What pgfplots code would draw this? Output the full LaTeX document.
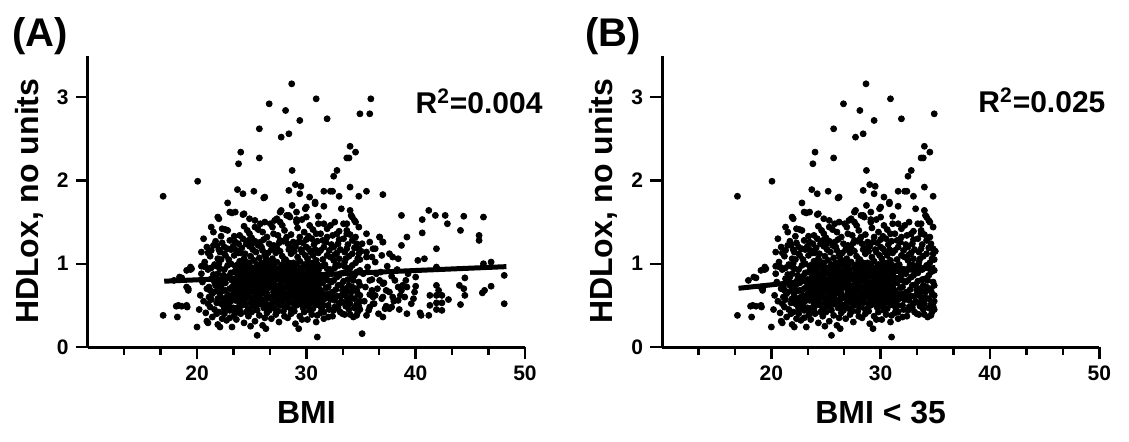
\documentclass[border=0pt]{standalone}
\usepackage{pgfplots}
\pgfplotsset{compat=1.18}
\usepackage{pgfplotstable}
\usepackage{fontspec}
\setmainfont{Liberation Sans}

% HDLox vs BMI (panel B = same points with BMI < 35)
\pgfplotstableread[row sep=\\]{
bmi hdl\\
28.66 3.16\\ 30.9 2.98\\ 35.9 2.98\\ 26.6 2.92\\ 28.1 2.84\\ 34.9 2.80\\ 35.8 2.80\\ 31.9 2.74\\
29.4 2.72\\ 25.7 2.62\\ 27.7 2.52\\ 28.4 2.56\\ 34.0 2.41\\ 34.5 2.34\\ 24.0 2.34\\ 23.8 2.20\\
25.7 2.27\\ 33.7 2.27\\ 33.9 2.27\\ 28.7 2.12\\ 32.8 2.12\\ 32.5 2.05\\ 20.06 1.99\\ 16.9 1.81\\
23.7 1.89\\ 24.2 1.84\\ 25.2 1.87\\ 26.1 1.79\\ 28.4 1.88\\ 29.0 1.95\\ 29.5 1.93\\ 29.4 1.84\\
30.3 1.80\\ 31.6 1.87\\ 32.2 1.87\\ 32.4 1.87\\ 33.0 1.81\\ 34.0 1.92\\ 34.8 1.81\\ 35.5 1.87\\ 37.0 1.83\\
16.9 0.38\\ 18.2 0.36\\ 18.1 0.49\\ 18.6 0.49\\ 19.1 0.48\\ 19.2 0.70\\ 19.4 0.93\\ 19.4 0.96\\
18.4 0.84\\ 20.0 0.24\\ 21.0 0.29\\ 22.1 0.24\\ 21.9 0.27\\ 23.2 0.24\\ 25.5 0.14\\ 26.3 0.22\\
31.0 0.12\\ 30.8 1.74\\ 22.8 1.73\\ 21.9 1.56\\ 23.0 1.62\\ 23.5 1.62\\ 24.3 1.60\\ 21.3 1.44\\
22.3 1.42\\ 22.8 1.40\\ 20.6 1.30\\ 20.4 1.14\\ 21.3 1.16\\ 21.8 1.22\\ 20.4 0.97\\ 20.8 0.96\\
28.7 1.70\\ 27.6 1.62\\ 28.2 1.58\\ 24.8 1.54\\ 25.3 1.44\\
26.2 1.80\\ 23.2 1.61\\ 24.2 1.59\\ 25.3 1.52\\ 25.6 1.41\\ 24.8 1.36\\ 26.7 1.48\\ 27.3 1.54\\
27.7 1.64\\ 28.4 1.58\\ 29.1 1.53\\ 29.6 1.53\\ 30.0 1.68\\ 30.8 1.72\\ 31.6 1.69\\ 31.1 1.57\\
30.3 1.46\\ 31.6 1.48\\ 32.2 1.46\\ 33.2 1.66\\ 34.0 1.64\\ 34.1 1.58\\ 22.6 1.41\\
20.9 1.20\\ 21.5 1.22\\ 22.1 1.14\\ 23.0 1.28\\ 23.6 1.16\\ 23.9 1.34\\ 24.5 1.24\\ 25.8 1.26\\
26.4 1.32\\ 27.0 1.36\\ 27.6 1.28\\ 28.2 1.32\\ 28.8 1.26\\ 29.4 1.32\\ 30.5 1.30\\ 30.9 1.36\\
31.9 1.32\\ 32.8 1.36\\ 33.4 1.30\\ 34.5 1.32\\ 35.1 1.24\\ 35.5 1.36\\ 19.05 0.92\\ 19.5 0.94\\
19.05 0.72\\ 19.2 0.68\\ 18.3 0.50\\ 19.05 0.50\\ 18.6 0.83\\ 17.9 0.80\\
34.2 1.56\\ 34.4 1.52\\ 33.4 1.48\\ 33.7 1.40\\ 33.7 1.36\\
22.0 1.54\\ 21.5 1.38\\ 29.1 1.62\\ 29.9 1.66\\ 30.0 1.56\\ 34.5 1.50\\ 33.7 1.48\\ 25.8 1.48\\
26.2 1.50\\ 27.1 1.52\\ 27.6 1.50\\ 28.5 1.56\\ 29.1 1.50\\ 23.4 1.33\\ 24.3 1.45\\ 25.0 1.31\\
26.0 1.38\\ 26.9 1.44\\ 27.4 1.34\\ 28.0 1.40\\ 28.6 1.35\\ 29.2 1.43\\ 29.8 1.38\\ 30.2 1.33\\
30.6 1.41\\ 31.3 1.36\\ 31.9 1.42\\ 32.4 1.34\\ 33.0 1.39\\ 34.0 1.35\\ 34.8 1.44\\ 24.6 1.40\\
22.2 1.33\\ 32.6 1.50\\ 31.1 1.48\\ 27.8 1.46\\ 36.7 1.32\\ 37.0 1.26\\
38.7 1.58\\ 41.2 1.64\\ 40.6 1.53\\ 41.8 1.58\\ 42.7 1.58\\ 42.9 1.48\\ 44.4 1.57\\ 44.1 1.40\\
46.2 1.56\\ 45.8 1.34\\ 45.8 1.28\\ 40.6 1.37\\ 39.2 1.32\\ 38.7 1.22\\ 41.9 1.18\\ 40.8 1.06\\
40.2 1.04\\ 46.9 1.02\\ 46.2 1.00\\ 48.1 0.86\\ 48.1 0.52\\ 46.9 0.73\\ 46.3 0.68\\ 46.1 0.65\\
44.5 0.83\\ 44.0 0.74\\ 44.4 0.70\\ 44.5 0.62\\ 44.1 0.51\\ 43.0 0.57\\ 42.4 0.62\\ 41.9 0.62\\
41.3 0.62\\ 41.9 0.53\\ 42.4 0.53\\ 41.3 0.50\\ 41.9 0.45\\ 42.4 0.44\\ 41.2 0.38\\ 40.4 0.41\\
40.5 0.38\\ 41.9 0.74\\ 42.1 0.68\\ 41.9 0.96\\ 40.0 0.84\\ 40.0 0.73\\ 39.9 0.66\\ 39.8 0.58\\
39.2 0.40\\ 39.1 0.80\\ 39.2 0.72\\ 38.7 0.68\\ 38.4 0.72\\ 38.6 0.62\\ 38.4 0.56\\ 37.8 0.48\\
37.6 0.46\\ 37.9 0.60\\ 38.1 0.80\\ 37.6 1.12\\ 37.9 1.08\\ 37.0 1.26\\ 36.7 1.32\\ 37.0 0.36\\
37.2 0.46\\ 37.3 0.68\\ 37.0 0.76\\ 37.0 0.60\\ 36.7 0.80\\ 36.1 1.18\\ 36.0 1.08\\ 35.8 1.26\\
35.5 1.14\\ 35.1 0.16\\ 35.5 0.38\\ 35.8 0.48\\ 36.1 0.52\\ 36.3 0.62\\ 36.0 0.68\\ 35.8 0.80\\ 36.4 0.88\\
23.7 0.47\\ 24.1 0.50\\ 24.7 0.46\\ 25.2 0.49\\ 25.6 0.51\\ 26.1 0.47\\ 26.7 0.49\\ 27.1 0.46\\
27.6 0.50\\ 28.2 0.48\\ 28.6 0.45\\ 29.1 0.50\\ 29.7 0.47\\ 30.1 0.49\\ 30.6 0.46\\ 31.2 0.50\\
23.5 0.56\\ 24.0 0.54\\ 24.4 0.57\\ 25.0 0.53\\ 25.4 0.56\\ 25.9 0.55\\ 26.4 0.58\\ 26.9 0.53\\
27.4 0.56\\ 27.8 0.54\\ 28.4 0.57\\ 28.9 0.53\\ 29.4 0.56\\ 29.9 0.54\\ 30.4 0.57\\ 30.9 0.55\\ 31.4 0.53\\
23.8 0.61\\ 24.3 0.64\\ 24.8 0.60\\ 25.3 0.63\\ 25.7 0.61\\ 26.2 0.64\\ 26.6 0.60\\ 27.2 0.62\\
27.6 0.65\\ 28.1 0.61\\ 28.5 0.63\\ 29.0 0.60\\ 29.6 0.64\\ 30.0 0.61\\ 30.5 0.63\\ 31.0 0.60\\ 31.5 0.64\\
23.6 0.70\\ 24.1 0.68\\ 24.6 0.71\\ 25.1 0.67\\ 25.5 0.70\\ 26.0 0.68\\ 26.5 0.71\\ 27.0 0.69\\
27.5 0.67\\ 27.9 0.70\\ 28.4 0.72\\ 28.8 0.68\\ 29.3 0.70\\ 29.8 0.67\\ 30.3 0.71\\ 30.8 0.69\\ 31.3 0.68\\
23.9 0.77\\ 24.4 0.75\\ 24.9 0.78\\ 25.3 0.74\\ 25.8 0.77\\ 26.3 0.75\\ 26.8 0.78\\ 27.2 0.74\\
27.7 0.76\\ 28.2 0.79\\ 28.7 0.75\\ 29.1 0.77\\ 29.6 0.74\\ 30.1 0.78\\ 30.5 0.76\\ 31.0 0.74\\ 31.5 0.77\\
23.7 0.84\\ 24.2 0.82\\ 24.7 0.85\\ 25.2 0.81\\ 25.6 0.84\\ 26.1 0.82\\ 26.6 0.86\\ 27.0 0.83\\
27.5 0.81\\ 28.0 0.84\\ 28.5 0.82\\ 28.9 0.85\\ 29.4 0.81\\ 29.9 0.84\\ 30.4 0.82\\ 30.8 0.85\\ 31.3 0.83\\
23.8 0.91\\ 24.3 0.89\\ 24.8 0.92\\ 25.4 0.88\\ 25.8 0.91\\ 26.3 0.89\\ 26.8 0.92\\ 27.3 0.88\\
27.8 0.91\\ 28.3 0.89\\ 28.7 0.93\\ 29.2 0.90\\ 29.7 0.88\\ 30.2 0.91\\ 30.7 0.89\\ 31.1 0.92\\
23.6 0.98\\ 24.1 0.96\\ 24.6 0.99\\ 25.1 0.95\\ 25.6 0.98\\ 26.1 0.96\\ 26.5 0.99\\ 27.0 0.97\\
27.6 0.95\\ 28.1 0.98\\ 28.5 0.96\\ 29.0 0.99\\ 29.5 0.95\\ 30.0 0.98\\ 30.5 0.96\\ 31.0 0.99\\ 31.4 0.97\\
23.9 1.03\\ 24.5 1.02\\ 25.2 1.04\\ 25.9 1.01\\ 26.7 1.03\\ 27.3 1.02\\ 28.0 1.04\\ 28.8 1.01\\
29.4 1.03\\ 30.2 1.02\\ 30.9 1.04\\
23.9 0.52\\ 24.4 0.51\\ 24.9 0.53\\ 25.4 0.50\\ 25.9 0.52\\ 26.4 0.51\\ 26.9 0.53\\ 27.4 0.52\\
27.9 0.50\\ 28.4 0.53\\ 28.9 0.51\\ 29.4 0.52\\ 29.9 0.50\\ 30.4 0.53\\ 30.9 0.51\\ 31.3 0.52\\
23.7 0.59\\ 24.2 0.58\\ 24.7 0.60\\ 25.2 0.58\\ 25.7 0.59\\ 26.2 0.57\\ 26.7 0.60\\ 27.2 0.58\\
27.7 0.59\\ 28.2 0.57\\ 28.7 0.60\\ 29.2 0.58\\ 29.7 0.59\\ 30.2 0.57\\ 30.7 0.60\\ 31.2 0.58\\
23.9 0.66\\ 24.5 0.65\\ 24.9 0.67\\ 25.5 0.65\\ 26.0 0.66\\ 26.4 0.64\\ 27.0 0.66\\ 27.4 0.65\\
27.9 0.67\\ 28.4 0.65\\ 28.9 0.66\\ 29.4 0.64\\ 29.9 0.66\\ 30.4 0.65\\ 30.9 0.67\\ 31.3 0.65\\
23.8 0.73\\ 24.3 0.72\\ 24.8 0.74\\ 25.3 0.72\\ 25.8 0.73\\ 26.2 0.71\\ 26.8 0.73\\ 27.3 0.72\\
27.7 0.74\\ 28.2 0.72\\ 28.7 0.73\\ 29.2 0.71\\ 29.6 0.73\\ 30.1 0.72\\ 30.6 0.74\\ 31.1 0.72\\
23.6 0.80\\ 24.1 0.79\\ 24.6 0.81\\ 25.1 0.79\\ 25.6 0.80\\ 26.1 0.78\\ 26.5 0.80\\ 27.0 0.79\\
27.5 0.81\\ 28.0 0.79\\ 28.5 0.80\\ 28.9 0.78\\ 29.4 0.80\\ 29.9 0.79\\ 30.4 0.81\\ 30.8 0.79\\ 31.3 0.80\\
23.9 0.87\\ 24.5 0.86\\ 24.9 0.88\\ 25.4 0.86\\ 25.9 0.87\\ 26.4 0.85\\ 26.9 0.87\\ 27.3 0.86\\
27.8 0.88\\ 28.3 0.86\\ 28.8 0.87\\ 29.2 0.85\\ 29.7 0.87\\ 30.2 0.86\\ 30.6 0.88\\ 31.1 0.86\\
23.7 0.94\\ 24.2 0.93\\ 24.7 0.95\\ 25.2 0.93\\ 25.7 0.94\\ 26.2 0.92\\ 26.7 0.94\\ 27.1 0.93\\
27.6 0.95\\ 28.1 0.93\\ 28.6 0.94\\ 29.1 0.92\\ 29.6 0.94\\ 30.1 0.93\\ 30.6 0.95\\ 31.0 0.93\\
24.0 1.00\\ 24.8 1.01\\ 25.5 0.99\\ 26.3 1.01\\ 27.1 1.00\\ 27.8 0.99\\ 28.4 1.01\\ 29.1 1.00\\
29.8 0.99\\ 30.6 1.01\\
20.2 0.45\\ 20.3 0.62\\ 20.5 0.78\\ 20.4 0.88\\ 20.6 0.55\\ 20.8 0.41\\ 20.9 0.70\\ 20.7 1.02\\
21.0 0.93\\ 21.1 0.60\\ 21.2 0.48\\ 21.3 0.82\\ 21.4 0.36\\ 21.5 0.66\\ 21.6 0.99\\ 21.7 0.74\\
21.8 0.53\\ 21.9 0.88\\ 22.0 0.42\\ 22.1 0.61\\ 22.2 1.05\\ 22.3 0.79\\ 22.4 0.50\\ 22.5 0.93\\
22.6 0.68\\ 22.7 0.32\\ 22.8 0.57\\ 22.9 0.85\\ 23.0 0.44\\ 23.1 1.00\\ 23.2 0.72\\ 23.3 0.63\\
23.4 0.38\\ 23.4 0.90\\ 22.5 0.46\\ 21.8 0.97\\ 21.0 0.52\\ 22.2 0.73\\ 23.0 0.54\\ 22.0 0.66\\
21.5 0.87\\ 20.9 0.31\\ 22.6 1.10\\ 23.2 0.80\\ 20.6 0.97\\ 21.3 0.57\\ 22.9 0.62\\ 23.5 0.41\\
21.1 0.72\\ 21.3 0.95\\ 21.4 0.64\\ 21.6 0.45\\ 21.7 0.84\\ 21.9 0.58\\ 22.0 0.76\\ 22.1 0.94\\
22.2 0.52\\ 22.3 0.67\\ 22.4 0.86\\ 22.5 0.40\\ 22.6 0.77\\ 22.7 0.60\\ 22.8 0.98\\ 22.9 0.49\\
23.0 0.70\\ 23.1 0.89\\ 23.2 0.56\\ 23.3 0.81\\ 23.4 0.65\\ 23.5 0.97\\ 23.3 0.47\\ 22.4 0.58\\
21.9 0.70\\ 21.2 0.68\\ 22.7 0.83\\ 23.1 0.61\\ 21.6 0.78\\ 22.0 1.00\\ 23.4 0.75\\ 22.6 0.52\\
21.8 0.40\\ 23.0 0.35\\ 22.3 0.34\\
31.6 0.42\\ 31.7 0.58\\ 31.8 0.71\\ 31.9 0.87\\ 31.7 0.99\\ 32.0 0.50\\ 32.1 0.64\\ 32.2 0.93\\
32.3 0.78\\ 32.4 0.37\\ 32.5 1.04\\ 32.6 0.56\\ 32.7 0.69\\ 32.8 0.84\\ 32.9 0.47\\ 33.0 0.98\\
33.1 0.61\\ 33.2 0.75\\ 33.3 0.40\\ 33.4 0.89\\ 33.5 0.53\\ 33.6 1.06\\ 33.7 0.67\\ 33.8 0.81\\
33.9 0.45\\ 34.0 0.95\\ 34.1 0.59\\ 34.2 0.72\\ 34.3 0.36\\ 34.4 0.86\\ 34.5 1.01\\ 34.6 0.51\\
34.7 0.64\\ 34.8 0.78\\ 34.9 0.92\\ 34.9 0.55\\ 32.0 0.80\\ 32.6 0.95\\ 33.1 0.88\\ 33.6 0.70\\
34.1 0.82\\ 34.6 0.68\\ 32.3 0.60\\ 33.0 0.52\\ 33.8 0.58\\ 34.4 0.47\\ 31.9 1.10\\ 32.8 1.13\\
33.5 0.97\\ 34.2 1.12\\ 34.8 1.18\\ 34.7 0.42\\ 34.0 0.39\\ 33.4 0.63\\ 32.5 0.44\\
31.6 0.50\\ 31.7 0.83\\ 31.8 0.63\\ 31.9 0.94\\ 32.0 0.72\\ 32.1 0.45\\ 32.2 0.57\\ 32.3 0.88\\
32.4 0.66\\ 32.5 0.80\\ 32.6 0.48\\ 32.7 0.99\\ 32.8 0.61\\ 32.9 0.74\\ 33.0 0.86\\ 33.1 0.42\\
33.2 0.55\\ 33.3 0.68\\ 33.4 0.79\\ 33.5 1.02\\ 33.6 0.49\\ 33.7 0.60\\ 33.8 0.93\\ 33.9 0.74\\
34.0 0.52\\ 34.1 0.66\\ 34.2 0.98\\ 34.3 0.80\\ 34.4 0.58\\ 34.5 0.70\\ 34.6 0.90\\ 34.7 1.06\\
34.8 0.49\\ 34.9 0.74\\ 34.9 0.62\\ 34.9 1.05\\ 34.8 1.12\\ 34.6 0.38\\ 34.9 0.45\\ 33.5 0.39\\ 32.0 0.36\\
35.2 0.88\\ 35.3 0.55\\ 35.4 0.72\\ 35.6 0.96\\ 35.7 0.44\\ 35.8 0.63\\ 36.0 0.81\\ 36.2 0.52\\
36.3 1.02\\ 36.5 0.70\\ 36.6 0.40\\ 36.8 0.90\\ 36.9 0.58\\ 37.1 0.77\\ 37.3 0.49\\ 37.4 0.97\\
37.6 0.66\\ 37.8 0.85\\ 38.0 0.55\\ 38.3 0.93\\ 38.5 0.45\\ 38.8 0.74\\ 39.0 0.60\\ 39.3 0.88\\
39.6 0.52\\ 35.5 1.08\\ 36.1 0.60\\
23.6 0.33\\ 24.0 0.40\\ 24.3 0.29\\ 24.7 0.37\\ 25.0 0.42\\ 25.3 0.31\\ 25.7 0.38\\ 26.0 0.26\\
26.4 0.41\\ 26.8 0.34\\ 27.2 0.39\\ 27.5 0.30\\ 27.9 0.43\\ 28.3 0.35\\ 28.6 0.40\\ 29.0 0.28\\
29.4 0.37\\ 29.8 0.42\\ 30.1 0.33\\ 30.5 0.39\\ 30.9 0.30\\ 31.3 0.41\\ 31.6 0.34\\ 24.9 0.25\\ 29.3 0.22\\
23.9 0.44\\ 24.5 0.42\\ 25.5 0.44\\ 26.2 0.35\\ 26.6 0.44\\ 27.4 0.43\\ 28.0 0.37\\ 28.9 0.43\\
29.6 0.33\\ 30.3 0.44\\ 31.0 0.38\\ 31.4 0.46\\
21.2 1.09\\ 21.9 1.06\\ 22.5 1.12\\ 22.9 1.05\\ 23.4 1.10\\ 24.0 1.13\\ 24.3 1.06\\ 24.9 1.09\\
25.4 1.14\\ 25.7 1.07\\ 26.2 1.11\\ 26.9 1.06\\ 27.2 1.13\\ 27.8 1.09\\ 28.1 1.05\\ 28.6 1.12\\
29.2 1.08\\ 29.6 1.14\\ 30.1 1.06\\ 30.6 1.10\\ 31.1 1.13\\ 31.5 1.05\\ 32.2 1.08\\ 33.0 1.06\\
33.9 1.09\\ 36.9 1.10\\ 38.4 1.06\\
22.3 1.25\\ 22.8 1.18\\ 23.3 1.21\\ 24.1 1.19\\ 24.7 1.28\\ 25.1 1.17\\ 25.6 1.22\\ 26.0 1.16\\
26.6 1.24\\ 27.3 1.19\\ 27.9 1.27\\ 28.4 1.17\\ 29.0 1.21\\ 29.7 1.25\\ 30.2 1.18\\ 30.7 1.23\\
31.3 1.16\\ 31.8 1.26\\ 32.5 1.20\\ 33.1 1.17\\ 33.8 1.23\\ 34.4 1.19\\ 36.3 1.18\\
23.1 1.17\\ 23.8 1.24\\ 24.4 1.12\\ 25.0 1.23\\ 25.9 1.20\\ 26.5 1.13\\ 27.0 1.22\\ 27.6 1.15\\
28.3 1.24\\ 28.9 1.15\\ 29.3 1.26\\ 30.0 1.20\\ 30.4 1.14\\ 31.0 1.27\\ 31.6 1.20\\ 32.1 1.16\\
32.9 1.24\\ 33.5 1.14\\ 34.2 1.28\\
21.0 1.13\\ 21.7 1.27\\ 22.5 1.20\\ 23.5 1.26\\ 24.2 1.30\\ 24.8 1.21\\ 25.3 1.27\\ 26.1 1.29\\
26.8 1.17\\ 27.5 1.25\\ 28.1 1.29\\ 28.7 1.19\\ 29.5 1.17\\ 30.0 1.29\\ 30.8 1.17\\ 31.5 1.28\\
32.3 1.23\\ 33.0 1.29\\ 33.7 1.18\\ 34.6 1.24\\ 35.0 1.15\\ 22.0 1.17\\ 23.8 1.13\\ 26.3 1.07\\
29.9 1.10\\ 32.6 1.11\\
}\hdldata

\pgfplotsset{
  panel/.style={
    scale only axis, width=218.65pt, height=145.75pt,
    xmin=10, xmax=50, ymin=0, ymax=3.5,
    axis lines*=left,
    axis line style={line width=1.5pt},
    xtick={20,30,40,50},
    minor xtick={13.333,16.667,23.333,26.667,33.333,36.667,43.333,46.667},
    ytick={0,1,2,3},
    tick align=outside, major tick length=6pt, minor tick length=4pt,
    tick style={black, line width=1.2pt},
    ticklabel style={font=\fontsize{10.5}{12}\selectfont\bfseries},
    /pgf/number format/assume math mode=true,
    ylabel={HDLox, no units},
    every axis y label/.style={at={(axis description cs:-0.133,0.5)}, rotate=90,
      anchor=center, font=\fontsize{16}{19}\selectfont\bfseries},
    every axis x label/.style={at={(axis description cs:0.5,-0.226)},
      anchor=center, font=\fontsize{16}{19}\selectfont\bfseries},
    clip=false,
  },
  dots/.style={only marks, mark=*, mark size=1.5pt, black},
}

\begin{document}
\begin{tikzpicture}[x=1pt,y=1pt]
\path[use as bounding box] (0,0) rectangle (564.5,220.5);

\begin{axis}[panel, at={(43.85pt,47pt)}, anchor=south west, xlabel={BMI}]
\addplot[dots] table[x=bmi, y=hdl] {\hdldata};
\addplot[black, line width=2.5pt] coordinates {(17,0.79) (48.3,0.965)};
\node[font=\fontsize{15}{18}\selectfont\bfseries] at (axis cs:45.8,2.95) {R\textsuperscript{2}=0.004};
\end{axis}

\begin{axis}[panel, at={(331pt,47pt)}, anchor=south west, xlabel={BMI < 35}]
\addplot[dots, restrict x to domain=0:35.01] table[x=bmi, y=hdl] {\hdldata};
\addplot[black, line width=2.5pt] coordinates {(17,0.705) (35,0.955)};
\node[font=\fontsize{15}{18}\selectfont\bfseries] at (axis cs:44.75,2.96) {R\textsuperscript{2}=0.025};
\end{axis}

\node[font=\fontsize{20}{24}\selectfont\bfseries] at (20,202.5) {(A)};
\node[font=\fontsize{20}{24}\selectfont\bfseries] at (306.5,202.5) {(B)};
\end{tikzpicture}
\end{document}
